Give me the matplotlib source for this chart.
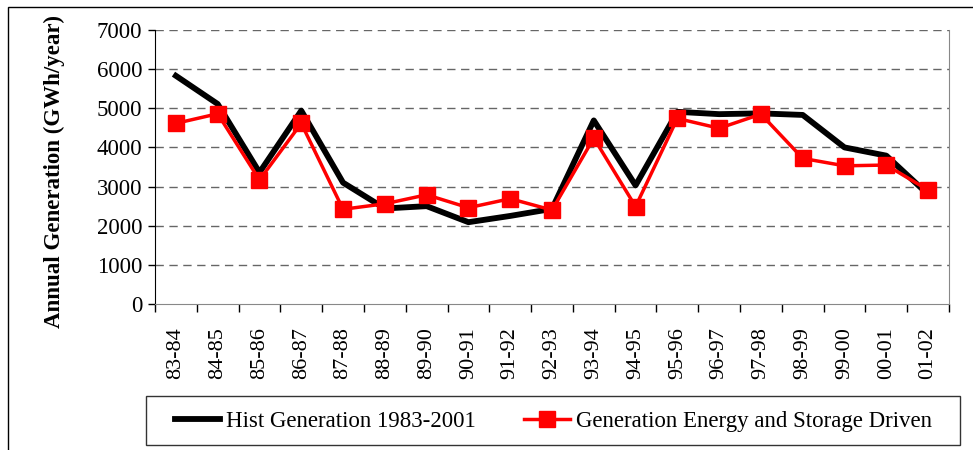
import numpy as np
import matplotlib.pyplot as plt
from matplotlib.patches import Rectangle

years = ["83-84", "84-85", "85-86", "86-87", "87-88", "88-89", "89-90", "90-91",
         "91-92", "92-93", "93-94", "94-95", "95-96", "96-97", "97-98", "98-99",
         "99-00", "00-01", "01-02"]
hist = [5830, 5110, 3360, 4940, 3100, 2440, 2500, 2090, 2250, 2430,
        4690, 3030, 4910, 4850, 4870, 4830, 4000, 3790, 2800]
driven = [4615, 4860, 3170, 4615, 2420, 2560, 2790, 2460, 2690, 2400,
          4240, 2490, 4740, 4490, 4850, 3720, 3530, 3550, 2910]

plt.rcParams['font.family'] = ['Liberation Serif', 'DejaVu Serif']

W, H = 973, 450
fig = plt.figure(figsize=(W / 100, H / 100), dpi=100)
ax = fig.add_axes([155 / W, 1 - 304 / H, (949 - 155) / W, (304 - 30) / H])

x = np.arange(len(years))
ax.plot(x, hist, color='black', lw=4.2, label='Hist Generation 1983-2001', zorder=3)
ax.plot(x, driven, color='#ff0000', lw=2.5, marker='s', markersize=11,
        label='Generation Energy and Storage Driven', zorder=4)

ax.set_xlim(-0.5, len(years) - 0.5)
ax.set_ylim(0, 7000)
ax.set_yticks(range(0, 7001, 1000))
ax.tick_params(axis='y', labelsize=16.5, length=5, width=1, pad=4)
ax.set_xticks(x)
ax.set_xticklabels(years, rotation=90, fontsize=16)
ax.tick_params(axis='x', which='major', length=0, pad=17)
ax.set_xticks(np.arange(-0.5, len(years)), minor=True)
ax.tick_params(axis='x', which='minor', length=6, width=1)

for v in range(1000, 7001, 1000):
    ax.axhline(v, color='#666666', lw=1, ls=(0, (6, 4)), zorder=1)

ax.spines['top'].set_visible(False)
ax.spines['right'].set_color('#888888')
ax.spines['bottom'].set_color('#888888')
ax.spines['left'].set_color('black')

fig.text(54 / W, 1 - 171 / H, 'Annual Generation (GWh/year)', rotation=90,
         ha='center', va='center', fontsize=16.5, fontweight='bold')

leg = fig.legend(loc='center', bbox_to_anchor=(553 / W, 1 - 421 / H), ncol=2,
                 fontsize=16.5, frameon=False, handlelength=2.0,
                 columnspacing=2.1, borderpad=0, handletextpad=0.25)

fig.patches.append(Rectangle((146 / W, 1 - 445 / H), (960 - 146) / W, 49 / H,
                             transform=fig.transFigure, fill=False,
                             edgecolor='#333333', lw=1))
fig.patches.append(Rectangle((8 / W, -0.1), 1.2, 1 - 7 / H + 0.1, transform=fig.transFigure,
                             fill=False, edgecolor='black', lw=1))

fig.savefig('out.png', dpi=100)
